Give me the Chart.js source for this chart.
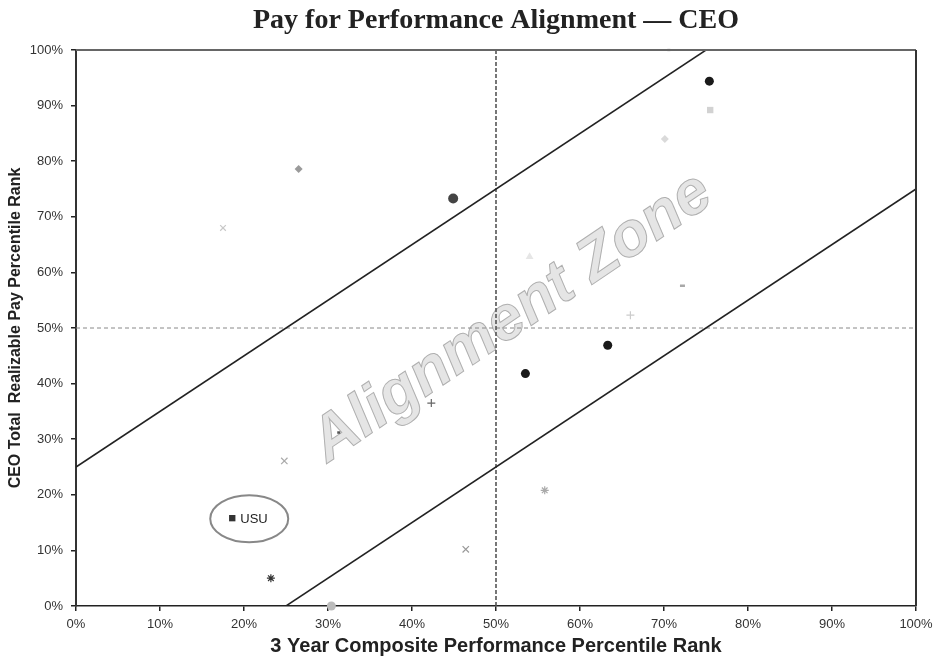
<!DOCTYPE html>
<html>
<head>
<meta charset="utf-8">
<script src="https://cdn.jsdelivr.net/npm/chart.js@4.4.0/dist/chart.umd.min.js"></script>
<style>
    body { margin: 0; background: #fff; }
    #wrap { width: 933px; height: 668px; position: relative; }
</style>
</head>
<body>
<div id="wrap"><canvas id="chart"></canvas></div>
<script>
    "use strict";

    // Peer data: performance rank (x) and realizable pay rank (y), in percent
    var perfRank = [75.4, 75.5, 70.1, 70.4, 26.5, 44.9, 17.5, 54.0, 71.9, 66.0, 63.3, 53.5, 42.3, 31.1, 24.8, 55.8, 18.6, 46.4, 23.2, 30.4];
    var payRank  = [94.4, 89.2, 84.0, 100,  78.6, 73.3, 68.0, 62.8, 57.6, 52.3, 46.9, 41.8, 36.5, 31.2, 26.1, 20.8, 15.8, 10.2,  5.0,  0.0];
    var companyIndex = 16;
    var companyLabel = "USU";

    // Alignment zone bounds and the 50th percentile lines
    var upperBandX = [0, 75];
    var upperBandY = [25, 100];
    var lowerBandX = [25, 100];
    var lowerBandY = [0, 75];
    var medianLine = 50;

    var tickValues = [0, 10, 20, 30, 40, 50, 60, 70, 80, 90, 100];

    // Marker looks, one per peer (same order as data)
    var markers = [
        ["circle", "#1a1a1a", 4.5], ["rect", "#d2d2d2", 4.5], ["rectRot", "#dadada", 4], ["dash", "#c0c0c0", 3],
        ["rectRot", "#9a9a9a", 4], ["circle", "#444444", 5], ["crossRot", "#c8c8c8", 4], ["triangle", "#e6e6e6", 4.5],
        ["dash", "#a8a8a8", 5], ["cross", "#cccccc", 4], ["circle", "#1a1a1a", 4.5], ["circle", "#1a1a1a", 4.5],
        ["cross", "#666666", 4], ["dash", "#555555", 3], ["crossRot", "#aaaaaa", 4.5], ["star", "#aaaaaa", 4],
        ["rect", "#333333", 4.5], ["crossRot", "#999999", 4.5], ["star", "#333333", 4], ["circle", "#bbbbbb", 4.5]
    ];

    function toPoints(xs, ys) {
        return xs.map(function (x, i) { return {x: x, y: ys[i]}; });
    }

    var datasets = [];

    perfRank.forEach(function (x, i) {
        var m = markers[i];
        var filled = (m[0] === "circle" || m[0] === "rect" || m[0] === "rectRot" || m[0] === "triangle");
        datasets.push({
            type: "scatter",
            data: [{x: x, y: payRank[i]}],
            pointStyle: m[0],
            pointRadius: m[2],
            pointBackgroundColor: m[1],
            pointBorderColor: m[1],
            pointBorderWidth: filled ? 0 : (m[0] === "dash" ? 2.5 : 1.2),
            clip: false,
            order: 1
        });
    });

    datasets.push({
        type: "line", data: toPoints(upperBandX, upperBandY),
        borderColor: "#222", borderWidth: 1.5, pointRadius: 0, order: 2
    });
    datasets.push({
        type: "line", data: toPoints(lowerBandX, lowerBandY),
        borderColor: "#222", borderWidth: 1.5, pointRadius: 0, order: 2
    });
    datasets.push({
        type: "line", data: [{x: medianLine, y: 0}, {x: medianLine, y: 100}],
        borderColor: "#555", borderWidth: 1.6, borderDash: [4, 2], pointRadius: 0, order: 2
    });
    datasets.push({
        type: "line", data: [{x: 0, y: medianLine}, {x: 100, y: medianLine}],
        borderColor: "#888", borderWidth: 1, borderDash: [4, 3], pointRadius: 0, order: 2
    });

    // Watermark behind the marks
    var watermark = {
        id: "watermark",
        beforeDatasetsDraw: function (chart) {
            var ctx = chart.ctx;
            ctx.save();
            ctx.translate(512, 318);
            ctx.rotate(-34 * Math.PI / 180);
            ctx.font = "italic bold 62px 'Liberation Sans', Arial, sans-serif";
            ctx.textAlign = "center";
            ctx.textBaseline = "middle";
            ctx.fillStyle = "#e5e5e5";
            ctx.fillText("Alignment Zone", 0, 0);
            ctx.strokeStyle = "#b0b0b0";
            ctx.lineWidth = 1;
            ctx.strokeText("Alignment Zone", 0, 0);
            ctx.restore();
        }
    };

    // Frame, title and the company callout
    var extras = {
        id: "extras",
        afterDraw: function (chart) {
            var ctx = chart.ctx;
            var a = chart.chartArea;
            ctx.save();
            ctx.strokeStyle = "#666";
            ctx.lineWidth = 2;
            ctx.beginPath();
            ctx.moveTo(a.left, a.top);
            ctx.lineTo(a.right, a.top);
            ctx.stroke();
            ctx.strokeStyle = "#333";
            ctx.beginPath();
            ctx.moveTo(a.right, a.top);
            ctx.lineTo(a.right, a.bottom);
            ctx.stroke();

            ctx.fillStyle = "#222";
            ctx.font = "bold 28px 'Liberation Serif', 'Times New Roman', serif";
            ctx.textAlign = "center";
            ctx.textBaseline = "middle";
            ctx.fillText("Pay for Performance Alignment \u2014 CEO", (a.left + a.right) / 2, 21);

            var px = chart.scales.x.getPixelForValue(perfRank[companyIndex]);
            var py = chart.scales.y.getPixelForValue(payRank[companyIndex]);
            ctx.strokeStyle = "#888";
            ctx.lineWidth = 2;
            ctx.beginPath();
            ctx.ellipse(px + 17, py + 0.5, 39, 23.5, 0, 0, Math.PI * 2);
            ctx.stroke();
            ctx.fillStyle = "#222";
            ctx.font = "13px 'Liberation Sans', Arial, sans-serif";
            ctx.textAlign = "left";
            ctx.fillText(companyLabel, px + 8, py + 1);
            ctx.restore();
        }
    };

    var pct = function (v) { return v + "%"; };

    var ctx = document.getElementById("chart").getContext("2d");
    var myChart = new Chart(ctx, {
        data: { datasets: datasets },
        options: {
            responsive: true,
            maintainAspectRatio: false,
            animation: false,
            layout: { padding: { top: 50, right: 17, bottom: 0, left: 0 } },
            plugins: {
                legend: { display: false },
                tooltip: { enabled: false },
                title: { display: false }
            },
            scales: {
                x: {
                    type: "linear", min: 0, max: 100,
                    afterBuildTicks: function (s) { s.ticks = tickValues.map(function (v) { return {value: v}; }); },
                    afterFit: function (s) { s.height = 62; s.paddingLeft = 0; s.paddingRight = 0; },
                    ticks: { callback: pct, color: "#333", padding: 6, maxRotation: 0,
                        font: { family: "'Liberation Sans', Arial, sans-serif", size: 13 } },
                    grid: { drawOnChartArea: false, drawTicks: true, tickLength: 5, color: "#222", lineWidth: 1.5 },
                    border: { color: "#222", width: 1.5 },
                    title: { display: true, text: "3 Year Composite Performance Percentile Rank", color: "#222",
                        padding: { top: 0, bottom: 10 },
                        font: { family: "'Liberation Sans', Arial, sans-serif", size: 20, weight: "bold" } }
                },
                y: {
                    type: "linear", min: 0, max: 100,
                    afterBuildTicks: function (s) { s.ticks = tickValues.map(function (v) { return {value: v}; }); },
                    afterFit: function (s) { s.width = 76; s.paddingTop = 0; s.paddingBottom = 0; },
                    ticks: { callback: pct, color: "#333", padding: 8,
                        font: { family: "'Liberation Sans', Arial, sans-serif", size: 13 } },
                    grid: { drawOnChartArea: false, drawTicks: true, tickLength: 5, color: "#222", lineWidth: 1.5 },
                    border: { color: "#333", width: 2 },
                    title: { display: true, text: "CEO Total  Realizable Pay Percentile Rank", color: "#222",
                        padding: { top: 6, bottom: 0 },
                        font: { family: "'Liberation Sans', Arial, sans-serif", size: 16, weight: "bold" } }
                }
            }
        },
        plugins: [watermark, extras]
    });
</script>
</body>
</html>
